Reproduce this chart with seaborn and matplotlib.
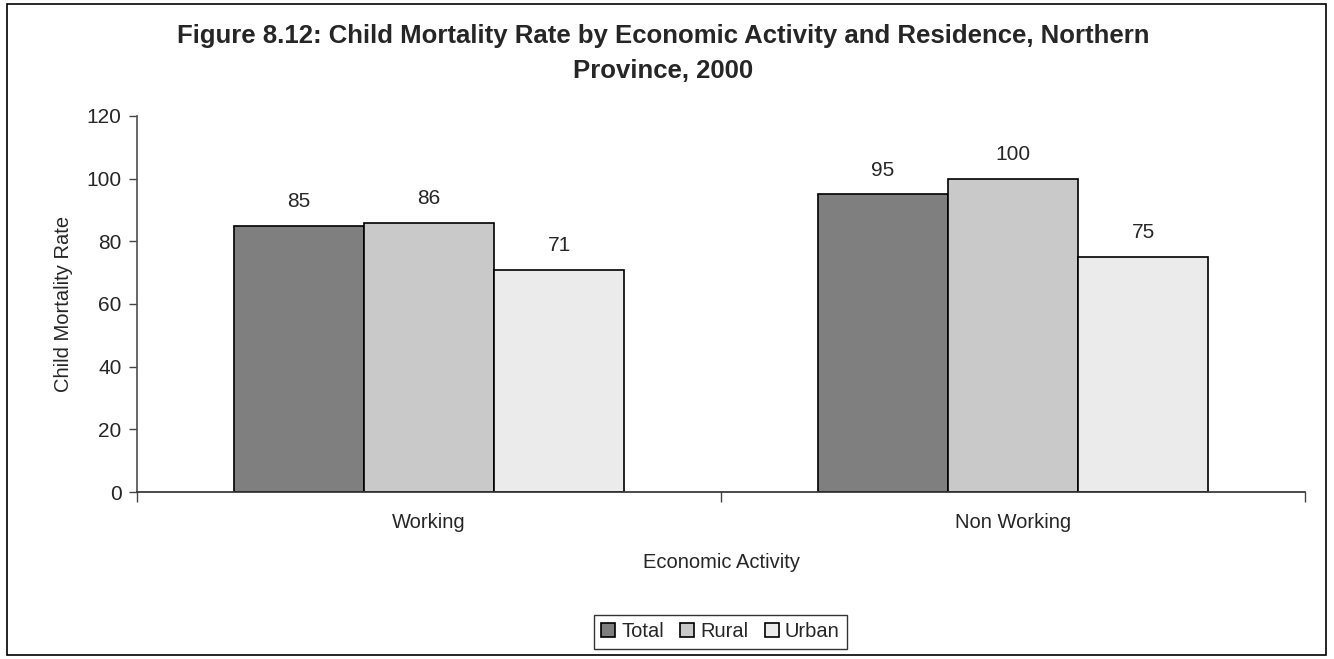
import matplotlib
matplotlib.use("Agg")
import matplotlib.pyplot as plt
from matplotlib.patches import Rectangle
import seaborn as sns
import pandas as pd

activities = ["Working", "Non Working"]
residence = ["Total", "Rural", "Urban"]
total = [85, 95]
rural = [86, 100]
urban = [71, 75]

df = pd.DataFrame({
    "Economic Activity": activities * 3,
    "Residence": ["Total"] * 2 + ["Rural"] * 2 + ["Urban"] * 2,
    "Rate": total + rural + urban,
})

sns.set_theme(style="white")
plt.rcParams["font.family"] = ["Liberation Sans", "DejaVu Sans"]

fig = plt.figure(figsize=(13.34, 6.59), dpi=100)
ax = fig.add_axes([0.1027, 0.2534, 0.8756, 0.5706])

palette = {"Total": "#7f7f7f", "Rural": "#c9c9c9", "Urban": "#ebebeb"}
sns.barplot(data=df, x="Economic Activity", y="Rate", hue="Residence",
            hue_order=residence, order=activities, palette=palette,
            width=0.668, edgecolor="black", linewidth=1.2, saturation=1,
            legend=True, ax=ax)

for cont in ax.containers:
    ax.bar_label(cont, fmt="%d", padding=10.5, fontsize=15)

ax.set_ylim(0, 120)
ax.set_xlim(-0.5, 1.5)
ax.set_yticks(range(0, 121, 20))
ax.set_ylabel("Child Mortality Rate", fontsize=14.5, labelpad=10)
ax.set_xlabel("Economic Activity", fontsize=14.5, labelpad=15)
ax.tick_params(axis="y", which="major", direction="out", length=6, width=1,
               color="#444444", labelsize=15, left=True, pad=5)
ax.tick_params(axis="x", which="major", length=0, labelsize=14.5, pad=15)
ax.set_xticks([-0.5, 0.5, 1.5], minor=True)
ax.tick_params(axis="x", which="minor", direction="out", length=7, width=1,
               color="#444444", bottom=True)
for side in ["top", "right"]:
    ax.spines[side].set_visible(False)
ax.spines["left"].set_color("#555555")
ax.spines["bottom"].set_color("#333333")

handles, labels = ax.get_legend_handles_labels()
ax.legend_.remove()
leg = fig.legend(handles, labels, loc="center", bbox_to_anchor=(0.54, 0.041),
                 ncol=3, frameon=True, fancybox=False, fontsize=14.5,
                 handlelength=0.7, handleheight=0.7, handletextpad=0.3,
                 columnspacing=0.8, borderpad=0.35, edgecolor="black")
leg.get_frame().set_linewidth(1)

fig.text(0.497, 1 - 43 / 659,
         "Figure 8.12: Child Mortality Rate by Economic Activity and Residence, Northern",
         ha="center", va="baseline", fontsize=18.5, fontweight="bold")
fig.text(0.497, 1 - 78 / 659, "Province, 2000",
         ha="center", va="baseline", fontsize=18.5, fontweight="bold")

fig.add_artist(Rectangle((7 / 1334, 4 / 659), 1319 / 1334, 651 / 659,
                         transform=fig.transFigure, fill=False,
                         edgecolor="black", linewidth=1.2))

fig.savefig("out.png", dpi=100, facecolor="white")
